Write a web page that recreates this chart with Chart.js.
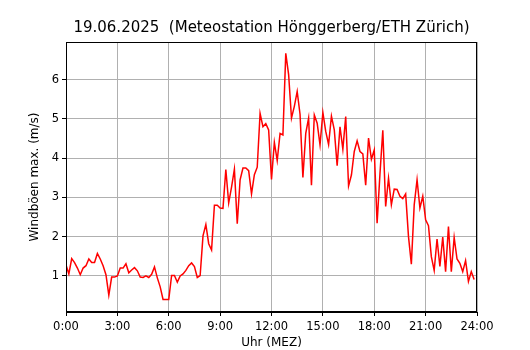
<!DOCTYPE html>
<html>
<head>
<meta charset="utf-8">
<script src="https://cdn.jsdelivr.net/npm/chart.js@4/dist/chart.umd.min.js"></script>
<style>
  html, body { margin: 0; padding: 0; background: #fff; }
  #wrap { width: 530px; height: 350px; }
</style>
</head>
<body>
<div id="wrap"><canvas id="windChart" width="530" height="350"></canvas></div>
<script>
// Windböen max. (m/s), 10-Minuten-Werte ab 0:00
const windMax = [
    1.28, 1.05, 1.44, 1.34, 1.20, 1.03, 1.20, 1.26, 1.43, 1.34, 1.34, 1.57,
    1.43, 1.26, 1.03, 0.51, 0.97, 0.97, 1.00, 1.20, 1.20, 1.31, 1.08, 1.15,
    1.21, 1.13, 0.97, 0.96, 1.00, 0.96, 1.04, 1.23, 0.95, 0.72, 0.40, 0.40,
    0.40, 1.01, 1.01, 0.84, 1.00, 1.05, 1.14, 1.26, 1.33, 1.24, 0.96, 1.01,
    2.02, 2.31, 1.82, 1.66, 2.80, 2.80, 2.73, 2.72, 3.71, 2.86, 3.26, 3.72,
    2.33, 3.45, 3.75, 3.75, 3.68, 3.09, 3.58, 3.77, 5.14, 4.80, 4.88, 4.72,
    3.46, 4.40, 3.94, 4.63, 4.59, 6.67, 6.13, 5.02, 5.32, 5.70, 5.12, 3.51,
    4.63, 5.02, 3.31, 5.10, 4.89, 4.34, 5.16, 4.68, 4.35, 5.07, 4.72, 3.81,
    4.80, 4.23, 5.06, 3.29, 3.57, 4.17, 4.44, 4.17, 4.11, 3.31, 4.51, 3.97,
    4.21, 2.34, 3.60, 4.71, 2.77, 3.49, 2.81, 3.21, 3.20, 3.03, 2.97, 3.09,
    2.00, 1.30, 2.81, 3.45, 2.73, 3.03, 2.43, 2.28, 1.49, 1.14, 1.94, 1.24,
    1.99, 1.11, 2.26, 1.11, 1.98, 1.43, 1.32, 1.11, 1.39, 0.86, 1.11, 0.91
];
const stepMinutes = 10;
const xTicks = [0, 3, 6, 9, 12, 15, 18, 21, 24];
const yTicks = [1, 2, 3, 4, 5, 6];
const yRange = [0.08, 6.96];

const points = windMax.map((v, i) => ({ x: i * stepMinutes / 60, y: v }));

// Rahmen oben/rechts wie bei matplotlib
const frame = {
    id: 'frame',
    afterDatasetsDraw(chart) {
        const { ctx, chartArea: a } = chart;
        ctx.save();
        ctx.strokeStyle = '#000';
        ctx.lineWidth = 1;
        ctx.strokeRect(Math.round(a.left) + 0.5, Math.round(a.top) + 0.5,
            Math.round(a.right - a.left) - 1, Math.round(a.bottom - a.top) - 1);
        ctx.restore();
    }
};

Chart.defaults.font.family = '"DejaVu Sans", sans-serif';
Chart.defaults.color = '#000';

new Chart(document.getElementById('windChart'), {
    type: 'line',
    data: {
        datasets: [{
            data: points,
            borderColor: '#ff0000',
            borderWidth: 1.5,
            pointRadius: 0,
            tension: 0,
            fill: false
        }]
    },
    options: {
        responsive: false,
        animation: false,
        devicePixelRatio: 1,
        layout: { padding: { left: 0, right: 53, top: 0, bottom: 0 } },
        plugins: {
            legend: { display: false },
            tooltip: { enabled: false },
            title: {
                display: true,
                fullSize: false,
                text: '19.06.2025  (Meteostation Hönggerberg/ETH Zürich)',
                color: '#000',
                font: { size: 15, weight: 'normal' },
                padding: { top: 19.5, bottom: 4.5 }
            }
        },
        scales: {
            x: {
                type: 'linear',
                min: 0,
                max: 24,
                afterBuildTicks: s => { s.ticks = xTicks.map(v => ({ value: v })); },
                afterFit: s => { s.height = 38; s.paddingLeft = 0; s.paddingRight = 0; },
                ticks: {
                    autoSkip: false,
                    maxRotation: 0,
                    padding: 4,
                    font: { size: 11.5 },
                    callback: v => v + ':00'
                },
                grid: { color: '#b0b0b0', lineWidth: 1, tickColor: '#000', tickLength: 4 },
                border: { color: '#000' },
                title: { display: true, text: 'Uhr (MEZ)', font: { size: 12 }, padding: { top: 0, bottom: 0 } }
            },
            y: {
                min: yRange[0],
                max: yRange[1],
                afterBuildTicks: s => { s.ticks = yTicks.map(v => ({ value: v })); },
                afterFit: s => { s.width = 66; s.paddingTop = 0; s.paddingBottom = 0; },
                ticks: {
                    padding: 3,
                    font: { size: 11.5 },
                    callback: v => String(v)
                },
                grid: { color: '#b0b0b0', lineWidth: 1, tickColor: '#000', tickLength: 4 },
                border: { color: '#000' },
                title: { display: true, text: 'Windböen max. (m/s)', font: { size: 12 }, padding: { top: 28, bottom: 0 } }
            }
        }
    },
    plugins: [frame]
});
</script>
</body>
</html>
